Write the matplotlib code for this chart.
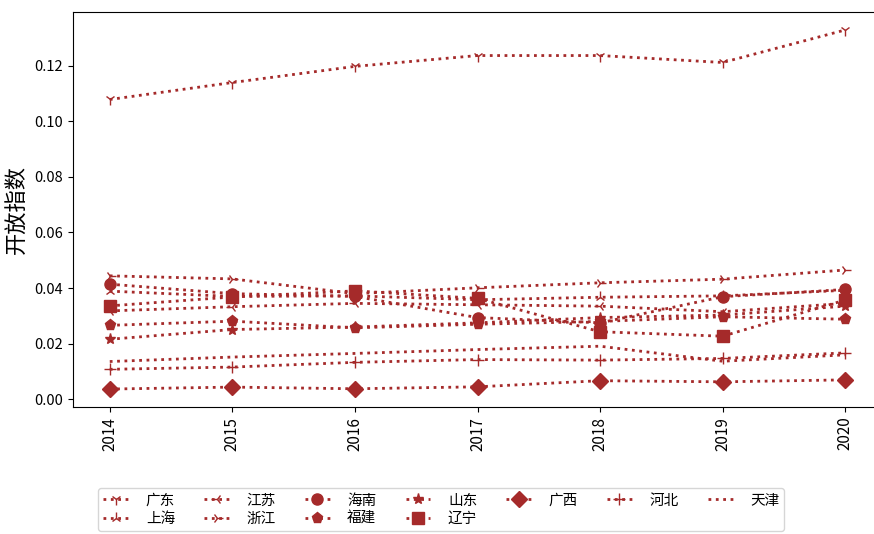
import matplotlib
matplotlib.use("Agg")
import matplotlib.pyplot as plt

plt.rcParams['font.family'] = ['Noto Sans CJK SC', 'DejaVu Sans']
plt.rcParams['axes.unicode_minus'] = False

years = [2014, 2015, 2016, 2017, 2018, 2019, 2020]

guangdong = [0.1078, 0.1139, 0.1197, 0.1236, 0.1236, 0.1211, 0.1328]
shanghai  = [0.0389, 0.0370, 0.0372, 0.0358, 0.0367, 0.0372, 0.0392]
jiangsu   = [0.0318, 0.0333, 0.0345, 0.0340, 0.0335, 0.0315, 0.0345]
zhejiang  = [0.0444, 0.0433, 0.0380, 0.0401, 0.0419, 0.0432, 0.0465]
hainan    = [0.0414, 0.0380, 0.0370, 0.0294, 0.0275, 0.0369, 0.0395]
fujian    = [0.0266, 0.0281, 0.0257, 0.0270, 0.0280, 0.0297, 0.0288]
shandong  = [0.0216, 0.0251, 0.0260, 0.0275, 0.0294, 0.0303, 0.0335]
liaoning  = [0.0336, 0.0368, 0.0390, 0.0363, 0.0243, 0.0227, 0.0357]
guangxi   = [0.0037, 0.0044, 0.0038, 0.0045, 0.0067, 0.0063, 0.0070]
hebei     = [0.0108, 0.0116, 0.0133, 0.0143, 0.0141, 0.0147, 0.0167]
tianjin   = [0.0136, 0.0152, 0.0165, 0.0179, 0.0191, 0.0137, 0.0160]

names = ['广东', '上海', '江苏', '浙江', '海南', '福建', '山东', '辽宁', '广西', '河北', '天津']
series = [guangdong, shanghai, jiangsu, zhejiang, hainan, fujian,
          shandong, liaoning, guangxi, hebei, tianjin]
markers = ['1', '2', '3', '4', 'o', 'p', '*', 's', 'D', '+', '']

color = '#a52a2a'

fig = plt.figure(figsize=(8.74, 5.34), dpi=100)
ax = fig.add_axes([73 / 874, 1 - 407 / 534, (882 - 73) / 874, (407 - 12) / 534])

for name, vals, mk in zip(names, series, markers):
    ax.plot(years, vals, linestyle=':', linewidth=2, color=color,
            marker=mk if mk else None, markersize=8, label=name)

ax.set_xticks(years)
ax.set_xticklabels([str(y) for y in years], rotation=90, fontsize=11)
ax.yaxis.set_major_formatter(matplotlib.ticker.FormatStrFormatter('%.2f'))
ax.tick_params(axis='y', labelsize=10.5)
ax.set_ylabel('开放指数', fontsize=16)

fig.legend(loc='lower center', bbox_to_anchor=(0.505, -0.008), ncol=7,
           fontsize=10.5, frameon=True, handlelength=1.7, columnspacing=2.0,
           handletextpad=1.2, labelspacing=0.3, borderpad=0.35)

fig.savefig('out.png', dpi=100)
